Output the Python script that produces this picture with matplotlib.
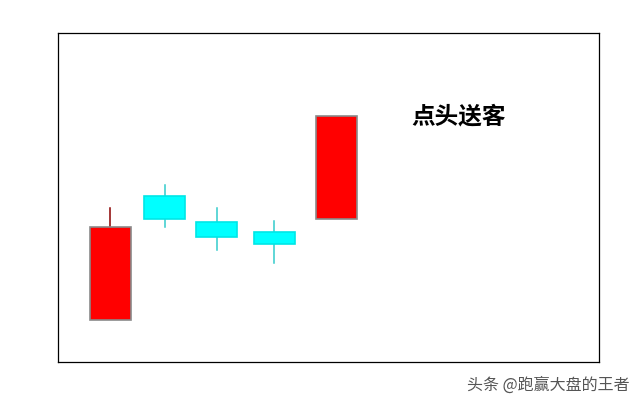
import matplotlib
matplotlib.use("Agg")
import matplotlib.pyplot as plt
from matplotlib.patches import Rectangle

plt.rcParams['font.family'] = ['Noto Sans CJK SC', 'DejaVu Sans']

# Candlestick data (arbitrary price units)
x_pos = [52, 106.5, 158.5, 216, 278]
opens = [42, 166, 140, 130, 143]
closes = [135, 143, 125, 118, 246]
highs = [154, 177, 154, 141, 246]
lows = [42, 135, 112, 99, 143]
title_text = "点头送客"
watermark = "头条 @跑赢大盘的王者"

W, H = 643, 405
fig = plt.figure(figsize=(W / 100, H / 100), dpi=100)
ax = fig.add_axes([58 / W, (H - 362) / H, 541 / W, 329 / H])
ax.set_xlim(0, 541)
ax.set_ylim(0, 329)
ax.set_xticks([])
ax.set_yticks([])
for s in ax.spines.values():
    s.set_color('black')
    s.set_linewidth(0.9)

body_w = 41
for x, o, c, h, l in zip(x_pos, opens, closes, highs, lows):
    up = c >= o
    face = '#ff0000' if up else '#00ffff'
    edge = '#8a8a8a' if up else '#00e6e6'
    wick = '#8b0000' if up else '#33cccc'
    top, bot = max(o, c), min(o, c)
    if h > top:
        ax.plot([x, x], [top, h], color=wick, lw=1.1, zorder=1)
    if l < bot:
        ax.plot([x, x], [l, bot], color=wick, lw=1.1, zorder=1)
    ax.add_patch(Rectangle((x - body_w / 2, bot), body_w, top - bot,
                           facecolor=face, edgecolor=edge, lw=1.2, zorder=2))

ax.text(401, 362 - 116, title_text, fontsize=17, fontweight='bold',
        ha='center', va='center', color='black')

fig.text(548 / W, 1 - 385 / H, watermark, fontsize=11.5, color='#555555',
         ha='center', va='center')

fig.savefig("out.png", dpi=100)
